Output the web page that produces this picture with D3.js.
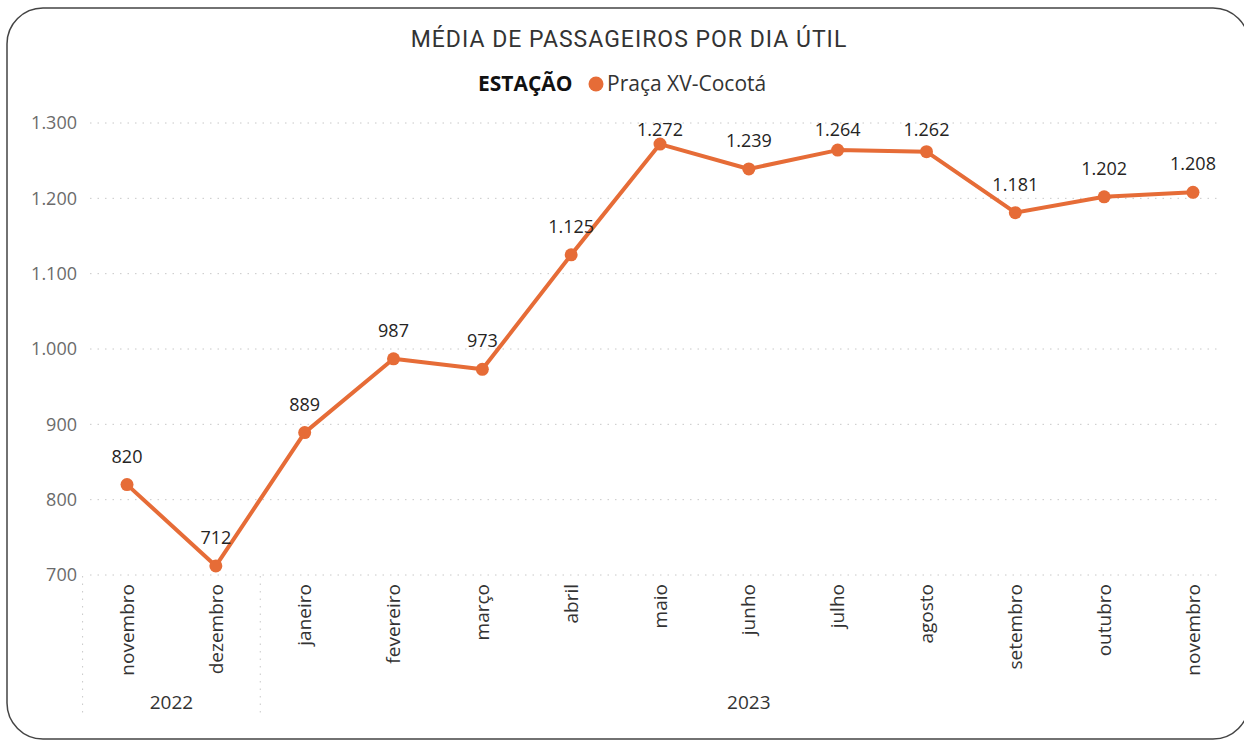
<!DOCTYPE html>
<html>
<head>
<meta charset="utf-8">
<script src="https://cdn.jsdelivr.net/npm/d3@7"></script>
<style>
  body { margin: 0; background: #fff; }
  svg { display: block; }
</style>
</head>
<body>
<svg id="chart"></svg>
<script>
// dados
const months = ["novembro", "dezembro", "janeiro", "fevereiro", "março", "abril", "maio",
    "junho", "julho", "agosto", "setembro", "outubro", "novembro"];
const years = ["2022", "2022", "2023", "2023", "2023", "2023", "2023",
    "2023", "2023", "2023", "2023", "2023", "2023"];
const passengers = [820, 712, 889, 987, 973, 1125, 1272, 1239, 1264, 1262, 1181, 1202, 1208];
const yTicks = [700, 800, 900, 1000, 1100, 1200, 1300];

const width = 1244, height = 740;
const orange = "#E66C37";
const font = "'Open Sans', 'Noto Sans', sans-serif";

const svg = d3.select("#chart")
    .attr("width", width)
    .attr("height", height);

// moldura arredondada
svg.append("rect")
    .attr("x", 7).attr("y", 8)
    .attr("width", 1242).attr("height", 731)
    .attr("rx", 36).attr("ry", 36)
    .attr("fill", "#fff")
    .attr("stroke", "#444").attr("stroke-width", 1.5);

// titulo
svg.append("text")
    .attr("x", 629).attr("y", 47)
    .attr("text-anchor", "middle")
    .attr("font-family", "Roboto, sans-serif")
    .attr("font-size", 23)
    .attr("letter-spacing", 1)
    .attr("fill", "#333")
    .text("MÉDIA DE PASSAGEIROS POR DIA ÚTIL");

// legenda
const legend = svg.append("g").attr("font-family", font).attr("font-size", 21);
legend.append("text")
    .attr("x", 478).attr("y", 91)
    .attr("font-weight", "bold")
    .attr("fill", "#111")
    .text("ESTAÇÃO");
legend.append("circle")
    .attr("cx", 596).attr("cy", 84).attr("r", 7.5)
    .attr("fill", orange);
legend.append("text")
    .attr("x", 607).attr("y", 91)
    .attr("fill", "#333")
    .text("Praça XV-Cocotá");

// escalas
const x = d3.scaleBand()
    .domain(d3.range(months.length))
    .range([82.6, 1237.4]);

const y = d3.scaleLinear()
    .domain([700, 1300])
    .range([575, 123]);

const fmt = d3.formatLocale({ decimal: ",", thousands: ".", grouping: [3], currency: ["R$", ""] }).format(",");

// grade
svg.append("g")
    .selectAll("line")
    .data(yTicks)
    .join("line")
    .attr("x1", 90).attr("x2", 1222)
    .attr("y1", d => y(d)).attr("y2", d => y(d))
    .attr("stroke", "#c8c8c8")
    .attr("stroke-width", 1)
    .attr("stroke-dasharray", "1.5 6");

// eixo y
const yAxis = svg.append("g")
    .attr("transform", "translate(84,0)")
    .call(d3.axisLeft(y).tickValues(yTicks).tickFormat(fmt).tickSize(0).tickPadding(7));
yAxis.select(".domain").remove();
yAxis.selectAll("text")
    .attr("font-family", font)
    .attr("font-size", 18)
    .attr("fill", "#6b6b6b");

// eixo x (meses)
const xAxis = svg.append("g")
    .attr("transform", "translate(0,575)")
    .call(d3.axisBottom(x).tickFormat(i => months[i]).tickSize(0));
xAxis.select(".domain").remove();
xAxis.selectAll("text")
    .attr("font-family", font)
    .attr("font-size", 19)
    .attr("fill", "#333")
    .attr("text-anchor", "end")
    .attr("transform", "rotate(-90)")
    .attr("x", -9)
    .attr("y", 0)
    .attr("dy", "0.35em");

// grupos de ano
const yearGroups = d3.groups(d3.range(years.length), i => years[i]);
const sepX = [x(0)];
yearGroups.forEach(([yr, idx]) => sepX.push(x(idx[idx.length - 1]) + x.bandwidth()));
svg.append("g")
    .selectAll("line")
    .data(sepX.slice(0, -1))
    .join("line")
    .attr("x1", d => d).attr("x2", d => d)
    .attr("y1", 576).attr("y2", 718)
    .attr("stroke", "#c8c8c8")
    .attr("stroke-dasharray", "1.5 6");

svg.append("g")
    .selectAll("text")
    .data(yearGroups)
    .join("text")
    .attr("x", ([yr, idx]) => (x(idx[0]) + x(idx[idx.length - 1]) + x.bandwidth()) / 2)
    .attr("y", 709)
    .attr("text-anchor", "middle")
    .attr("font-family", font)
    .attr("font-size", 19)
    .attr("fill", "#333")
    .text(([yr]) => yr);

// linha
const cx = i => x(i) + x.bandwidth() / 2;
svg.append("path")
    .datum(passengers)
    .attr("fill", "none")
    .attr("stroke", orange)
    .attr("stroke-width", 4)
    .attr("stroke-linejoin", "round")
    .attr("d", d3.line().x((d, i) => cx(i)).y(d => y(d)));

svg.append("g")
    .selectAll("circle")
    .data(passengers)
    .join("circle")
    .attr("cx", (d, i) => cx(i))
    .attr("cy", d => y(d))
    .attr("r", 6.5)
    .attr("fill", orange);

// rotulos (presos ao topo da area do grafico)
svg.append("g")
    .selectAll("text")
    .data(passengers)
    .join("text")
    .attr("x", (d, i) => cx(i))
    .attr("y", d => Math.max(y(d) - 22, 136))
    .attr("text-anchor", "middle")
    .attr("font-family", font)
    .attr("font-size", 18)
    .attr("fill", "#252423")
    .text(d => fmt(d));
</script>
</body>
</html>
